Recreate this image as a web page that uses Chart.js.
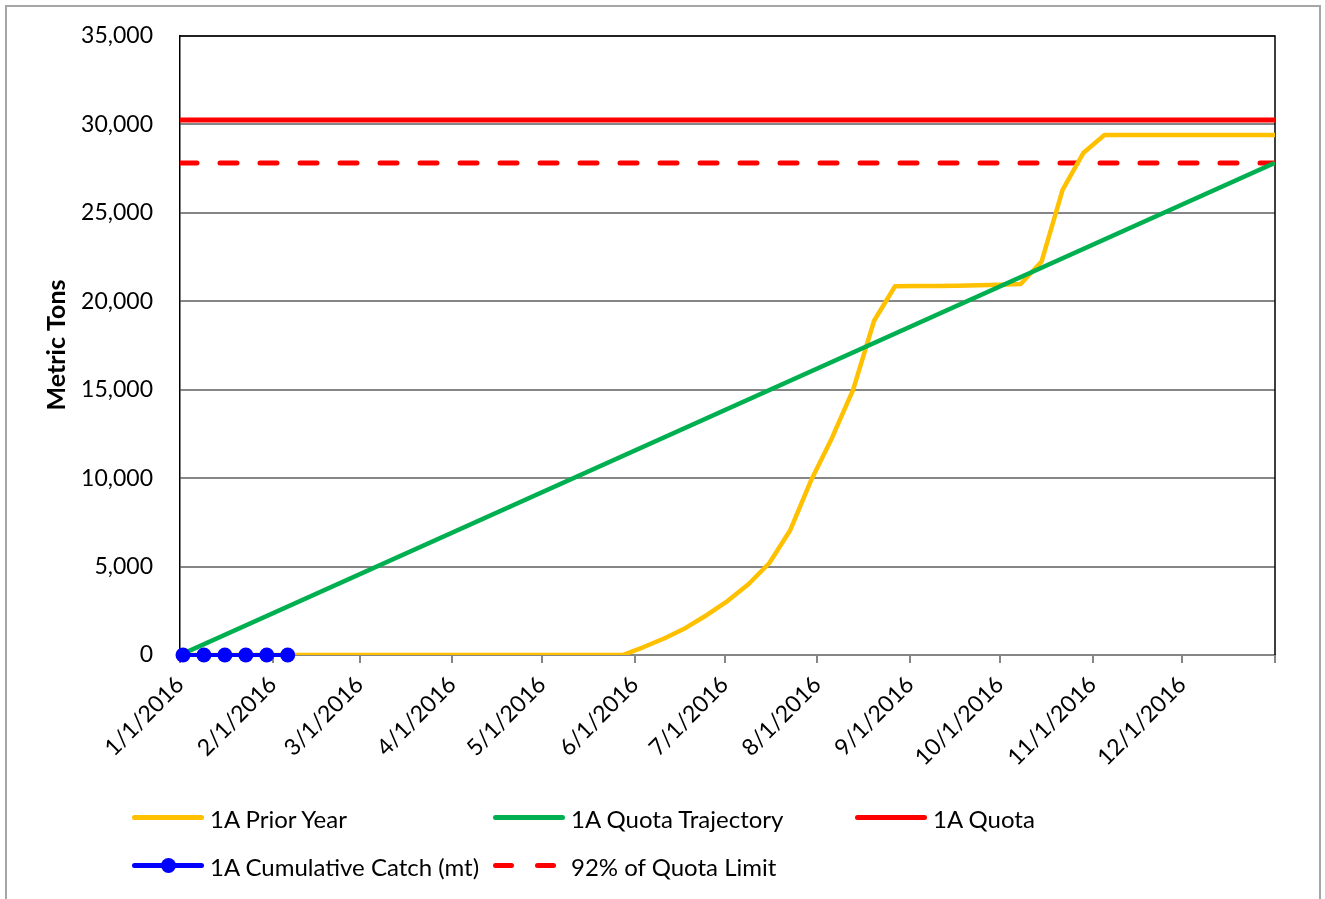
<!DOCTYPE html>
<html>
<head>
<meta charset="utf-8">
<script src="https://cdn.jsdelivr.net/npm/chart.js@4.4.0/dist/chart.umd.min.js"></script>
<style>
  html, body { margin: 0; padding: 0; background: #fff; }
  #wrap { position: relative; width: 1325px; height: 899px; overflow: hidden; font-family: Lato, "Noto Sans", sans-serif; }
  #frame { position: absolute; left: 5px; top: 5px; width: 1316px; height: 900px; border: 2px solid #a6a6a6; box-sizing: border-box; }
  canvas { position: absolute; left: 0; top: 0; }
  .leg { position: absolute; height: 30px; display: flex; align-items: center; font-size: 24px; color: #000; white-space: nowrap; }
  .sample { position: relative; width: 72px; height: 30px; margin-right: 6px; }
  .sample .ln { position: absolute; left: 0; top: 12px; width: 72px; height: 5px; border-radius: 3px; }
  .sample .dot { position: absolute; left: 29px; top: 7px; width: 15px; height: 15px; border-radius: 50%; background: #0000ff; }
  .sample .dash { position: absolute; top: 12px; width: 21px; height: 5px; border-radius: 3px; background: #ff0000; }
</style>
</head>
<body>
<div id="wrap">
  <div id="frame"></div>
  <canvas id="chart" width="1325" height="899"></canvas>
  <div class="leg" style="left:132px; top:803px;"><div class="sample"><div class="ln" style="background:#ffc000"></div></div>1A Prior Year</div>
  <div class="leg" style="left:493px; top:803px;"><div class="sample"><div class="ln" style="background:#00b050"></div></div>1A Quota Trajectory</div>
  <div class="leg" style="left:855px; top:803px;"><div class="sample"><div class="ln" style="background:#ff0000"></div></div>1A Quota</div>
  <div class="leg" style="left:132px; top:851px;"><div class="sample"><div class="ln" style="background:#0000ff"></div><div class="dot"></div></div>1A Cumulative Catch (mt)</div>
  <div class="leg" style="left:493px; top:851px;"><div class="sample"><div class="dash" style="left:0"></div><div class="dash" style="left:42px"></div></div>92% of Quota Limit</div>
</div>
<script>
// x values are days since 1/1/2016
const tickDays = [0, 31, 60, 91, 121, 152, 182, 213, 244, 274, 305, 335, 366];
const tickLabels = ["1/1/2016", "2/1/2016", "3/1/2016", "4/1/2016", "5/1/2016", "6/1/2016",
  "7/1/2016", "8/1/2016", "9/1/2016", "10/1/2016", "11/1/2016", "12/1/2016", ""];

const priorDays = [1, 8, 15, 22, 29, 36, 43, 50, 57, 64, 71, 78, 85, 92, 99, 106, 113, 120, 127, 134,
  141, 148, 155, 162, 169, 176, 183, 190, 197, 204, 211, 218, 225, 232, 239, 246, 253, 260, 267, 274,
  281, 288, 295, 302, 309, 316, 323, 330, 337, 344, 351, 358, 366];
const priorYear = [0, 0, 0, 0, 0, 0, 0, 0, 0, 0, 0, 0, 0, 0, 0, 0, 0, 0, 0, 0,
  0, 0, 450, 950, 1530, 2250, 3050, 4000, 5200, 7070, 9900, 12300, 15000, 18900, 20850, 20860, 20870, 20880, 20900, 20930,
  20980, 22250, 26300, 28400, 29400, 29400, 29400, 29400, 29400, 29400, 29400, 29400, 29400];

const trajectoryDays = [0, 366];
const trajectory = [0, 27825];

const quotaDays = [0, 366];
const quota = [30245, 30245];
const quota92 = [27825, 27825];

const catchDays = [1, 8, 15, 22, 29, 36];
const cumulativeCatch = [0, 0, 0, 0, 0, 0];

const yTicks = [0, 5000, 10000, 15000, 20000, 25000, 30000, 35000];

const pts = (xs, ys) => xs.map((x, i) => ({ x: x, y: ys[i] }));

// black top/right edge of the plot area + the rotated y title
const plotFrame = {
  id: "plotFrame",
  beforeDatasetsDraw(chart) {
    const a = chart.chartArea;
    const ctx = chart.ctx;
    ctx.save();
    ctx.strokeStyle = "#000";
    ctx.lineWidth = 1.5;
    ctx.beginPath();
    ctx.moveTo(a.left, a.top);
    ctx.lineTo(a.right, a.top);
    ctx.lineTo(a.right, a.bottom);
    ctx.stroke();
    ctx.translate(57, 345);
    ctx.rotate(-Math.PI / 2);
    ctx.fillStyle = "#000";
    ctx.font = "bold 25px Lato";
    ctx.textAlign = "center";
    ctx.textBaseline = "middle";
    ctx.fillText("Metric Tons", 0, 0);
    ctx.restore();
  }
};

new Chart(document.getElementById("chart"), {
  type: "line",
  data: {
    datasets: [
      {
        label: "1A Cumulative Catch (mt)",
        data: pts(catchDays, cumulativeCatch),
        borderColor: "#0000ff",
        backgroundColor: "#0000ff",
        borderWidth: 4,
        pointRadius: 7.5,
        pointBorderWidth: 0,
        clip: false,
        order: 1
      },
      {
        label: "1A Quota Trajectory",
        data: pts(trajectoryDays, trajectory),
        borderColor: "#00b050",
        borderWidth: 4.5,
        pointRadius: 0,
        order: 2
      },
      {
        label: "1A Prior Year",
        data: pts(priorDays, priorYear),
        borderColor: "#ffc000",
        borderWidth: 4.5,
        pointRadius: 0,
        borderJoinStyle: "round",
        order: 3
      },
      {
        label: "92% of Quota Limit",
        data: pts(quotaDays, quota92),
        borderColor: "#ff0000",
        borderWidth: 5,
        borderDash: [17, 23],
        borderCapStyle: "round",
        pointRadius: 0,
        order: 4
      },
      {
        label: "1A Quota",
        data: pts(quotaDays, quota),
        borderColor: "#ff0000",
        borderWidth: 5,
        pointRadius: 0,
        order: 5
      }
    ]
  },
  options: {
    responsive: false,
    animation: false,
    layout: { padding: { top: 36, right: 50, bottom: 0, left: 0 } },
    plugins: { legend: { display: false }, tooltip: { enabled: false } },
    scales: {
      x: {
        type: "linear",
        min: 0,
        max: 366,
        afterBuildTicks: axis => { axis.ticks = tickDays.map(v => ({ value: v })); },
        afterFit: axis => { axis.height = 899 - 655; },
        grid: { drawOnChartArea: false, drawTicks: true, tickLength: 8, color: "#868686", lineWidth: 2 },
        border: { display: true, color: "#868686", width: 2 },
        ticks: {
          autoSkip: false,
          minRotation: 45,
          maxRotation: 45,
          padding: 8,
          color: "#000",
          font: { family: "Lato", size: 23 },
          callback: (value, index) => tickLabels[index]
        }
      },
      y: {
        min: 0,
        max: 35000,
        afterBuildTicks: axis => { axis.ticks = yTicks.map(v => ({ value: v })); },
        afterFit: axis => {
          axis.width = 180;
          axis.paddingTop = 0;
          axis.paddingBottom = 0;
        },
        grid: { drawTicks: false, color: "#868686", lineWidth: 2 },
        border: { display: true, color: "#000", width: 1.5 },
        ticks: {
          padding: 27,
          color: "#000",
          font: { family: "Lato", size: 23 },
          callback: v => v.toLocaleString("en-US")
        }
      }
    }
  },
  plugins: [plotFrame]
});
</script>
</body>
</html>
